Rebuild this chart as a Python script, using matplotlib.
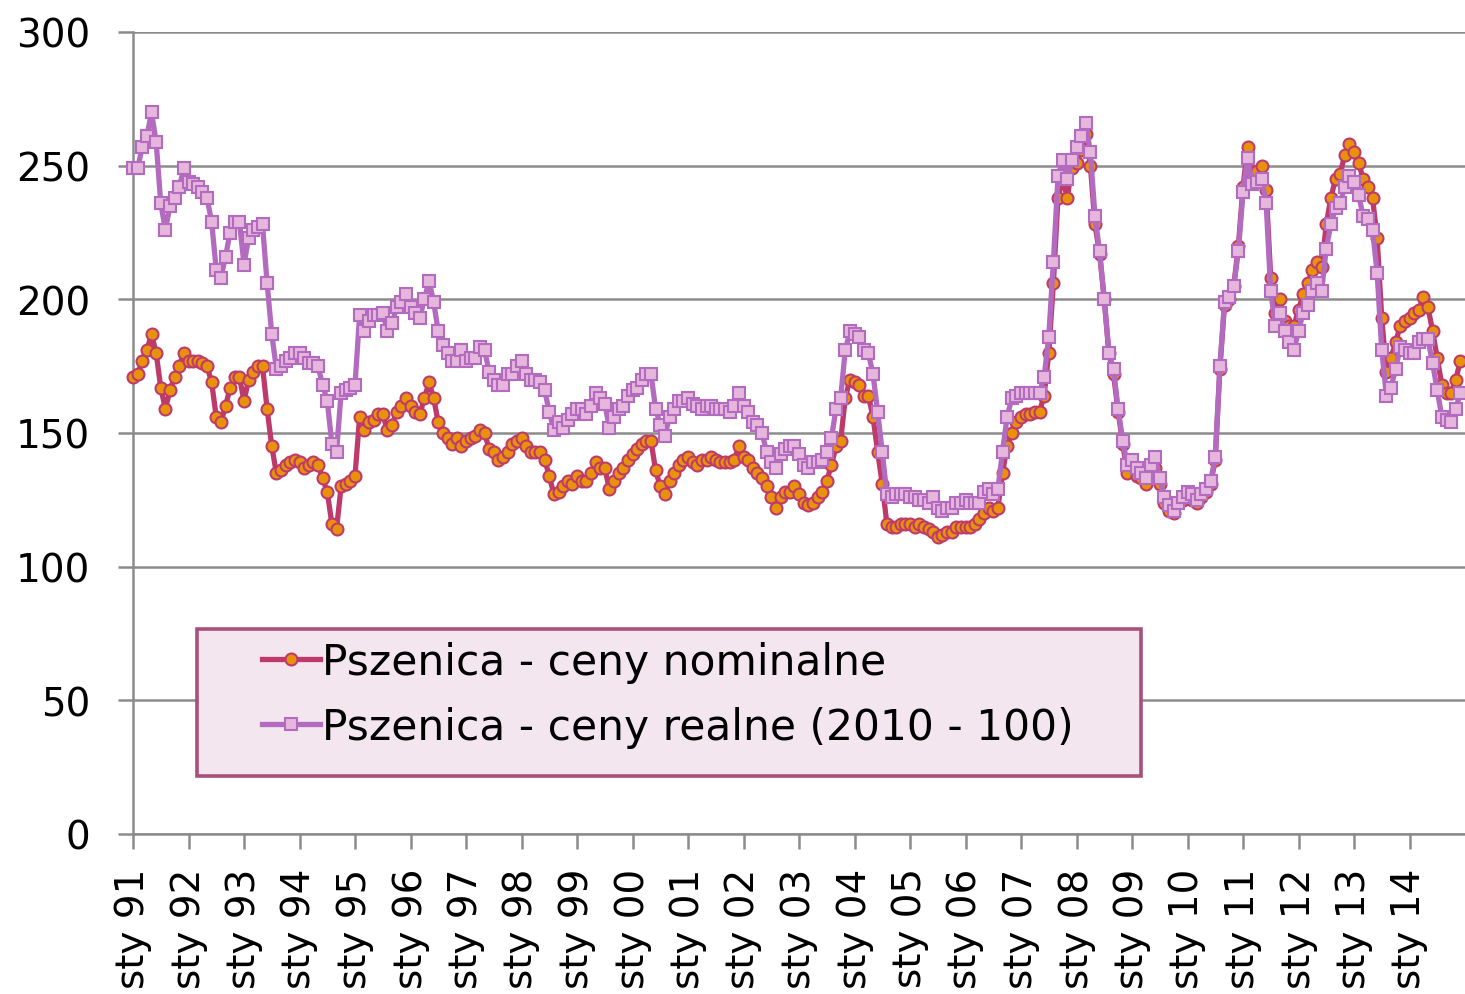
import numpy as np
import matplotlib
matplotlib.use("Agg")
from matplotlib import pyplot as plt
from matplotlib.patches import Rectangle

# monthly wheat prices, Jan 1991 .. Dec 2014 (one row = one year)
nominal = [
    171, 172, 177, 181, 187, 180, 167, 159, 166, 171, 175, 180,  # 91
    177, 177, 177, 176, 175, 169, 156, 154, 160, 167, 171, 171,  # 92
    162, 170, 173, 175, 175, 159, 145, 135, 136, 138, 139, 140,  # 93
    139, 137, 138, 139, 138, 133, 128, 116, 114, 130, 131, 132,  # 94
    134, 156, 151, 154, 155, 157, 157, 151, 153, 158, 160, 163,  # 95
    160, 158, 157, 163, 169, 163, 154, 150, 148, 146, 148, 145,  # 96
    147, 148, 149, 151, 150, 144, 143, 140, 141, 143, 146, 147,  # 97
    148, 145, 143, 143, 143, 140, 134, 127, 128, 130, 132, 131,  # 98
    134, 132, 132, 135, 139, 137, 137, 129, 132, 135, 137, 140,  # 99
    142, 144, 146, 147, 147, 136, 130, 127, 132, 135, 138, 140,  # 00
    141, 139, 138, 140, 140, 141, 140, 139, 139, 139, 140, 145,  # 01
    141, 140, 137, 135, 133, 130, 126, 122, 126, 128, 128, 130,  # 02
    127, 124, 123, 124, 126, 128, 132, 138, 145, 147, 163, 170,  # 03
    169, 168, 164, 164, 156, 143, 131, 116, 115, 115, 116, 116,  # 04
    116, 115, 116, 115, 114, 113, 111, 112, 113, 113, 115, 115,  # 05
    115, 115, 116, 118, 120, 122, 121, 122, 135, 145, 150, 154,  # 06
    156, 157, 157, 158, 158, 164, 180, 206, 238, 245, 238, 249,  # 07
    251, 256, 262, 250, 228, 217, 200, 180, 172, 158, 146, 135,  # 08
    138, 134, 133, 131, 135, 137, 131, 124, 121, 120, 124, 125,  # 09
    126, 125, 124, 126, 128, 131, 140, 174, 198, 200, 205, 220,  # 10
    242, 257, 247, 248, 250, 241, 208, 195, 200, 192, 190, 190,  # 11
    196, 202, 206, 211, 214, 212, 228, 238, 245, 247, 254, 258,  # 12
    255, 251, 245, 242, 238, 223, 193, 173, 178, 184, 190, 192,  # 13
    193, 195, 196, 201, 197, 188, 178, 168, 165, 165, 170, 177,  # 14
]

real = [
    249, 249, 257, 261, 270, 259, 236, 226, 235, 238, 242, 249,  # 91
    244, 243, 242, 240, 238, 229, 211, 208, 216, 225, 229, 229,  # 92
    213, 223, 226, 227, 228, 206, 187, 174, 175, 177, 178, 180,  # 93
    180, 178, 176, 176, 175, 168, 162, 146, 143, 165, 166, 167,  # 94
    168, 194, 188, 192, 194, 194, 195, 188, 191, 197, 199, 202,  # 95
    197, 195, 193, 200, 207, 199, 188, 183, 180, 177, 177, 181,  # 96
    177, 178, 178, 182, 181, 173, 170, 168, 168, 172, 172, 175,  # 97
    177, 172, 170, 170, 169, 166, 158, 151, 154, 152, 155, 157,  # 98
    159, 159, 157, 160, 165, 163, 161, 152, 156, 159, 160, 164,  # 99
    166, 167, 170, 172, 172, 159, 153, 149, 156, 159, 162, 162,  # 00
    163, 161, 160, 159, 160, 160, 159, 159, 159, 158, 160, 165,  # 01
    160, 158, 154, 153, 150, 143, 139, 137, 142, 144, 145, 145,  # 02
    142, 138, 137, 139, 139, 140, 143, 148, 159, 163, 181, 188,  # 03
    187, 186, 181, 180, 172, 158, 143, 127, 126, 127, 127, 127,  # 04
    126, 126, 125, 125, 124, 126, 122, 121, 122, 122, 124, 124,  # 05
    125, 124, 124, 124, 128, 129, 127, 129, 143, 156, 163, 164,  # 06
    165, 165, 165, 165, 165, 171, 186, 214, 246, 252, 245, 252,  # 07
    257, 261, 266, 255, 231, 218, 200, 180, 174, 159, 147, 138,  # 08
    140, 137, 135, 133, 138, 141, 133, 126, 123, 121, 124, 126,  # 09
    128, 127, 125, 127, 129, 132, 141, 175, 199, 201, 205, 218,  # 10
    240, 253, 243, 244, 245, 236, 203, 190, 195, 188, 184, 181,  # 11
    188, 195, 198, 203, 206, 203, 219, 228, 234, 236, 242, 246,  # 12
    244, 239, 231, 230, 226, 210, 181, 164, 167, 174, 182, 181,  # 13
    180, 180, 184, 185, 185, 176, 166, 156, 155, 154, 159, 165,  # 14
]

year_labels = [f"sty {y % 100:02d}" for y in range(1991, 2015)]
labels = ["Pszenica - ceny nominalne", "Pszenica - ceny realne (2010 - 100)"]

NOM_LINE = "#BE3A6A"
NOM_FACE = "#E8920C"
REAL_LINE = "#B36BC0"
REAL_FACE = "#E6B6DD"
GRID = "#8C8C8C"

W, H = 1465, 995
fig = plt.figure(figsize=(W / 100, H / 100), dpi=100)
ax = fig.add_axes([133 / W, 1 - 835 / H, 1 - 133 / W, (835 - 33) / H])

x = np.arange(len(nominal))
l1, = ax.plot(x, nominal, color=NOM_LINE, lw=3.8, marker="o", ms=8.6,
              mfc=NOM_FACE, mec=NOM_LINE, mew=1.5, zorder=3, clip_on=False)
l2, = ax.plot(x, real, color=REAL_LINE, lw=3.8, marker="s", ms=8.2,
              mfc=REAL_FACE, mec=REAL_LINE, mew=1.5, zorder=4, clip_on=False)

ax.set_xlim(0, len(nominal))
ax.set_ylim(0, 300)
ax.set_yticks(range(0, 301, 50))
ax.set_xticks(np.arange(0, len(nominal), 12))
ax.set_xticklabels(year_labels, rotation=90)
ax.yaxis.grid(True, color=GRID, lw=1.8)
ax.set_axisbelow(True)

for s in ["top", "right"]:
    ax.spines[s].set_visible(False)
for s in ["left", "bottom"]:
    ax.spines[s].set_color(GRID)
    ax.spines[s].set_linewidth(1.8)

ax.tick_params(color=GRID, length=11, width=1.8, labelsize=28, labelcolor="black")
ax.tick_params(axis="y", pad=20)
ax.tick_params(axis="x", pad=13)

# legend box
fig.add_artist(Rectangle((197 / W, 1 - 777 / H), 944 / W, 147 / H,
                         transform=fig.transFigure, fc="#F4E6EF", ec="#A8507A",
                         lw=2.6, zorder=4))
leg = fig.legend([l1, l2], labels, loc="upper left",
                 bbox_to_anchor=(262 / W, 1 - 642 / H), frameon=False,
                 fontsize=30.5, handlelength=1.37, handletextpad=0.05,
                 labelspacing=0.55, borderpad=0, borderaxespad=0)
leg.set_zorder(6)

fig.savefig("out.png", dpi=100)
